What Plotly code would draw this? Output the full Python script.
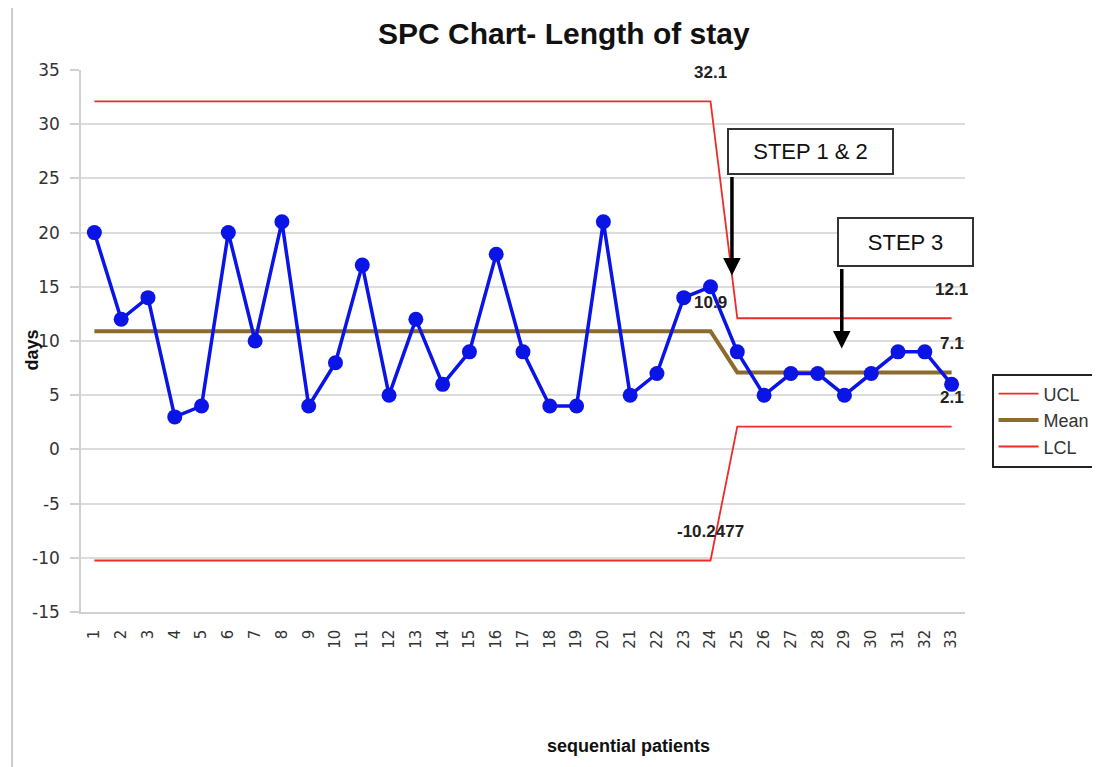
import plotly.graph_objects as go

patients = list(range(1, 34))
days = [20, 12, 14, 3, 4, 20, 10, 21, 4, 8, 17, 5, 12, 6, 9, 18, 9, 4, 4, 21,
        5, 7, 14, 15, 9, 5, 7, 7, 5, 7, 9, 9, 6]
ucl = [32.1] * 24 + [12.1] * 9
mean = [10.9] * 24 + [7.1] * 9
lcl = [-10.2477] * 24 + [2.1] * 9
y_ticks = [35, 30, 25, 20, 15, 10, 5, 0, -5, -10, -15]

label_points = [(24, ucl[23], "32.1"), (24, mean[23], "10.9"), (24, lcl[23], "-10.2477"),
                (33, ucl[32], "12.1"), (33, mean[32], "7.1"), (33, lcl[32], "2.1")]

BODY = "Liberation Sans Narrow, Liberation Sans, Arial Narrow, sans-serif"

fig = go.Figure()
fig.add_trace(go.Scatter(x=patients, y=ucl, mode="lines", name="UCL",
                         line=dict(color="#ee2a2a", width=1.8)))
fig.add_trace(go.Scatter(x=patients, y=mean, mode="lines", name="Mean",
                         line=dict(color="#8c6b2f", width=4)))
fig.add_trace(go.Scatter(x=patients, y=lcl, mode="lines", name="LCL",
                         line=dict(color="#ee2a2a", width=1.8)))
fig.add_trace(go.Scatter(x=patients, y=days, mode="lines+markers", name="days",
                         showlegend=False,
                         line=dict(color="#0a14e6", width=3.5),
                         marker=dict(color="#0a14e6", size=15)))

for x, y, t in label_points:
    fig.add_annotation(x=x, y=y, text="<b>%s</b>" % t, showarrow=False,
                       yshift=29, font=dict(family=BODY, size=17, color="#222222"))

# step boxes
fig.add_annotation(x=27.75, y=27.5, text="STEP 1 & 2", showarrow=False,
                   font=dict(family="Liberation Sans, Arial", size=22, color="#111111"),
                   bgcolor="white", bordercolor="#333333", borderwidth=2,
                   width=163, height=43, borderpad=0)
fig.add_annotation(x=31.28, y=19.1, text="STEP 3", showarrow=False,
                   font=dict(family="Liberation Sans, Arial", size=22, color="#111111"),
                   bgcolor="white", bordercolor="#333333", borderwidth=2,
                   width=133, height=46, borderpad=0)
# arrows
fig.add_annotation(x=24.8, y=16.05, text="", showarrow=True, axref="pixel", ayref="pixel",
                   ax=0, ay=-100, arrowhead=2, arrowsize=1, arrowwidth=3.5, arrowcolor="black")
fig.add_annotation(x=28.9, y=9.3, text="", showarrow=True, axref="pixel", ayref="pixel",
                   ax=0, ay=-81, arrowhead=2, arrowsize=1, arrowwidth=3.5, arrowcolor="black")

# axis titles
fig.add_annotation(xref="paper", yref="paper", x=-0.055, y=0.483, text="<b>days</b>",
                   textangle=-90, showarrow=False, xanchor="center", yanchor="middle",
                   font=dict(family=BODY, size=18, color="#111111"))
fig.add_annotation(xref="paper", yref="paper", x=0.619, y=-0.247, text="<b>sequential patients</b>",
                   showarrow=False, xanchor="center", yanchor="middle",
                   font=dict(family=BODY, size=18, color="#111111"))

# left border line of the figure
fig.add_shape(type="line", xref="paper", yref="paper", x0=-0.078, x1=-0.078, y0=-0.3, y1=1.13,
              line=dict(color="#bbbbbb", width=1.5))

fig.update_layout(
    width=1092, height=759,
    paper_bgcolor="white", plot_bgcolor="white",
    margin=dict(l=73, r=135, t=62, b=155, autoexpand=False),
    title=dict(text="<b>SPC Chart- Length of stay</b>", x=0.509, xanchor="center",
               y=0.967, yanchor="middle",
               font=dict(family=BODY, size=30, color="#111111")),
    legend=dict(x=1.03, y=0.44, xanchor="left", yanchor="top",
                bordercolor="#222222", borderwidth=2, bgcolor="white",
                font=dict(family="Liberation Sans, Arial", size=18, color="#333333"),
                tracegroupgap=4, itemwidth=40),
    xaxis=dict(range=[0.5, 33.5], tickmode="array", tickvals=patients,
               ticktext=[str(p) for p in patients], tickangle=-90,
               showgrid=False, showline=True, linecolor="#d0d0d0", linewidth=1.5,
               ticks="", ticklabelstandoff=10, automargin=False,
               tickfont=dict(family="DejaVu Sans", size=15, color="#333333"),
               zeroline=False),
    yaxis=dict(range=[-15, 35], tickmode="array", tickvals=y_ticks,
               ticktext=[str(v) for v in y_ticks],
               showgrid=True, gridcolor="#dcdcdc", gridwidth=1.5,
               showline=True, linecolor="#d0d0d0", linewidth=1.5,
               ticks="outside", ticklen=9, tickcolor="#d0d0d0", tickwidth=1.5,
               ticklabelstandoff=7, automargin=False,
               tickfont=dict(family="DejaVu Sans", size=17, color="#333333"),
               zeroline=False),
)

fig.write_html("out.html")
